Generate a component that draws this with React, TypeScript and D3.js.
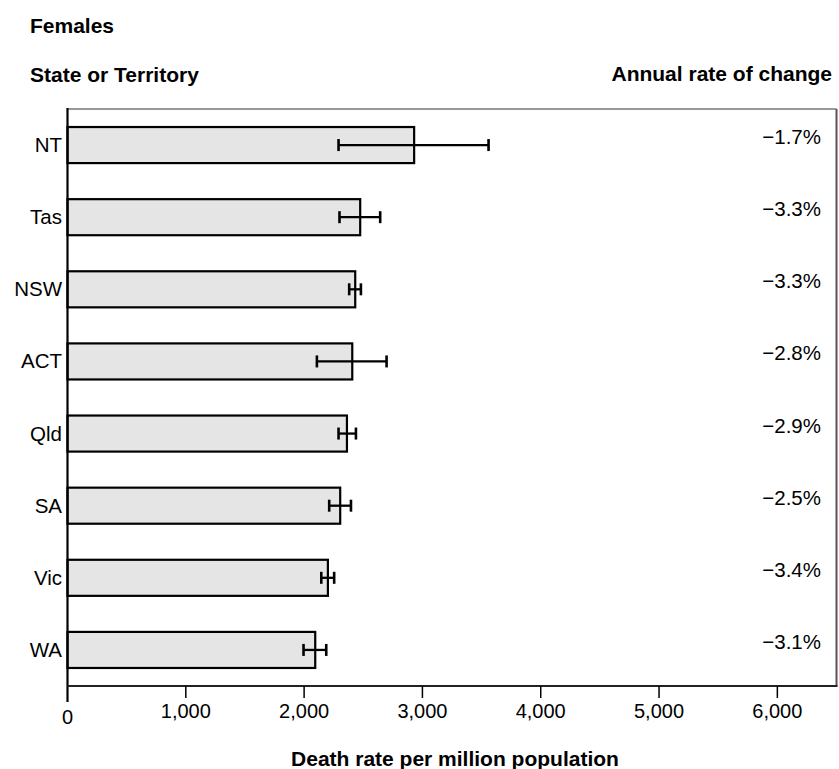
import React from "react";
import * as d3 from "d3";

const categories = ["NT", "Tas", "NSW", "ACT", "Qld", "SA", "Vic", "WA"];
const rates = [2930, 2474, 2432, 2407, 2362, 2305, 2201, 2094];
const lower = [2291, 2299, 2381, 2108, 2291, 2212, 2145, 1995];
const upper = [3559, 2643, 2480, 2697, 2438, 2396, 2254, 2187];
const changes = ["\u22121.7%", "\u22123.3%", "\u22123.3%", "\u22122.8%", "\u22122.9%", "\u22122.5%", "\u22123.4%", "\u22123.1%"];
const xTicks = [0, 1000, 2000, 3000, 4000, 5000, 6000];

const W = 839;
const H = 769;
const left = 67.5;
const right = 836.5;
const top = 109;
const bottom = 686;
const font = "Liberation Sans, Arial, Helvetica, sans-serif";

export default function App() {
  const x = d3.scaleLinear().domain([0, 6500]).range([left, right]);
  const y = d3.scaleBand<string>().domain(categories).range([top, bottom]).paddingInner(0.5).paddingOuter(0.25);
  const bw = y.bandwidth();
  const fmt = d3.format(",");
  return (
    <svg width={W} height={H} style={{ position: "absolute", left: 0, top: 0, background: "#fff" }} fontFamily={font}>
      <text x={30} y={33} fontSize={21} fontWeight="bold">Females</text>
      <text x={30} y={82} fontSize={21} fontWeight="bold">State or Territory</text>
      <text x={832} y={81} fontSize={21} fontWeight="bold" textAnchor="end">Annual rate of change</text>
      {/* frame */}
      <line x1={left} x2={right} y1={top} y2={top} stroke="#333" strokeWidth={1} />
      <line x1={right} x2={right} y1={top} y2={bottom} stroke="#555" strokeWidth={2} />
      {categories.map((c, i) => {
        const yc = (y(c) as number) + bw / 2;
        return (
          <g key={c}>
            <rect x={x(0)} y={y(c) as number} width={x(rates[i]) - x(0)} height={bw} fill="#e5e5e5" stroke="#000" strokeWidth={2.2} />
            <line x1={x(lower[i])} x2={x(upper[i])} y1={yc} y2={yc} stroke="#000" strokeWidth={2.3} />
            <line x1={x(lower[i])} x2={x(lower[i])} y1={yc - 6} y2={yc + 6} stroke="#000" strokeWidth={2.6} />
            <line x1={x(upper[i])} x2={x(upper[i])} y1={yc - 6} y2={yc + 6} stroke="#000" strokeWidth={2.6} />
            <text x={62} y={yc + 7} fontSize={20.5} textAnchor="end">{c}</text>
            <text x={821} y={yc - 1} fontSize={20.5} textAnchor="end">{changes[i]}</text>
          </g>
        );
      })}
      <line x1={left} x2={left} y1={top - 1} y2={bottom + 16} stroke="#000" strokeWidth={2.2} />
      <line x1={left} x2={right + 1} y1={bottom} y2={bottom} stroke="#222" strokeWidth={2.2} />
      {xTicks.map((t) => (
        <g key={t}>
          {t !== 0 && <line x1={x(t)} x2={x(t)} y1={bottom} y2={bottom + 12} stroke="#000" strokeWidth={1.5} />}
          <text x={x(t)} y={t === 0 ? 724 : 718} fontSize={20} textAnchor="middle">{fmt(t)}</text>
        </g>
      ))}
      <text x={(left + right) / 2 + 3} y={766} fontSize={21} fontWeight="bold" textAnchor="middle">Death rate per million population</text>
    </svg>
  );
}
